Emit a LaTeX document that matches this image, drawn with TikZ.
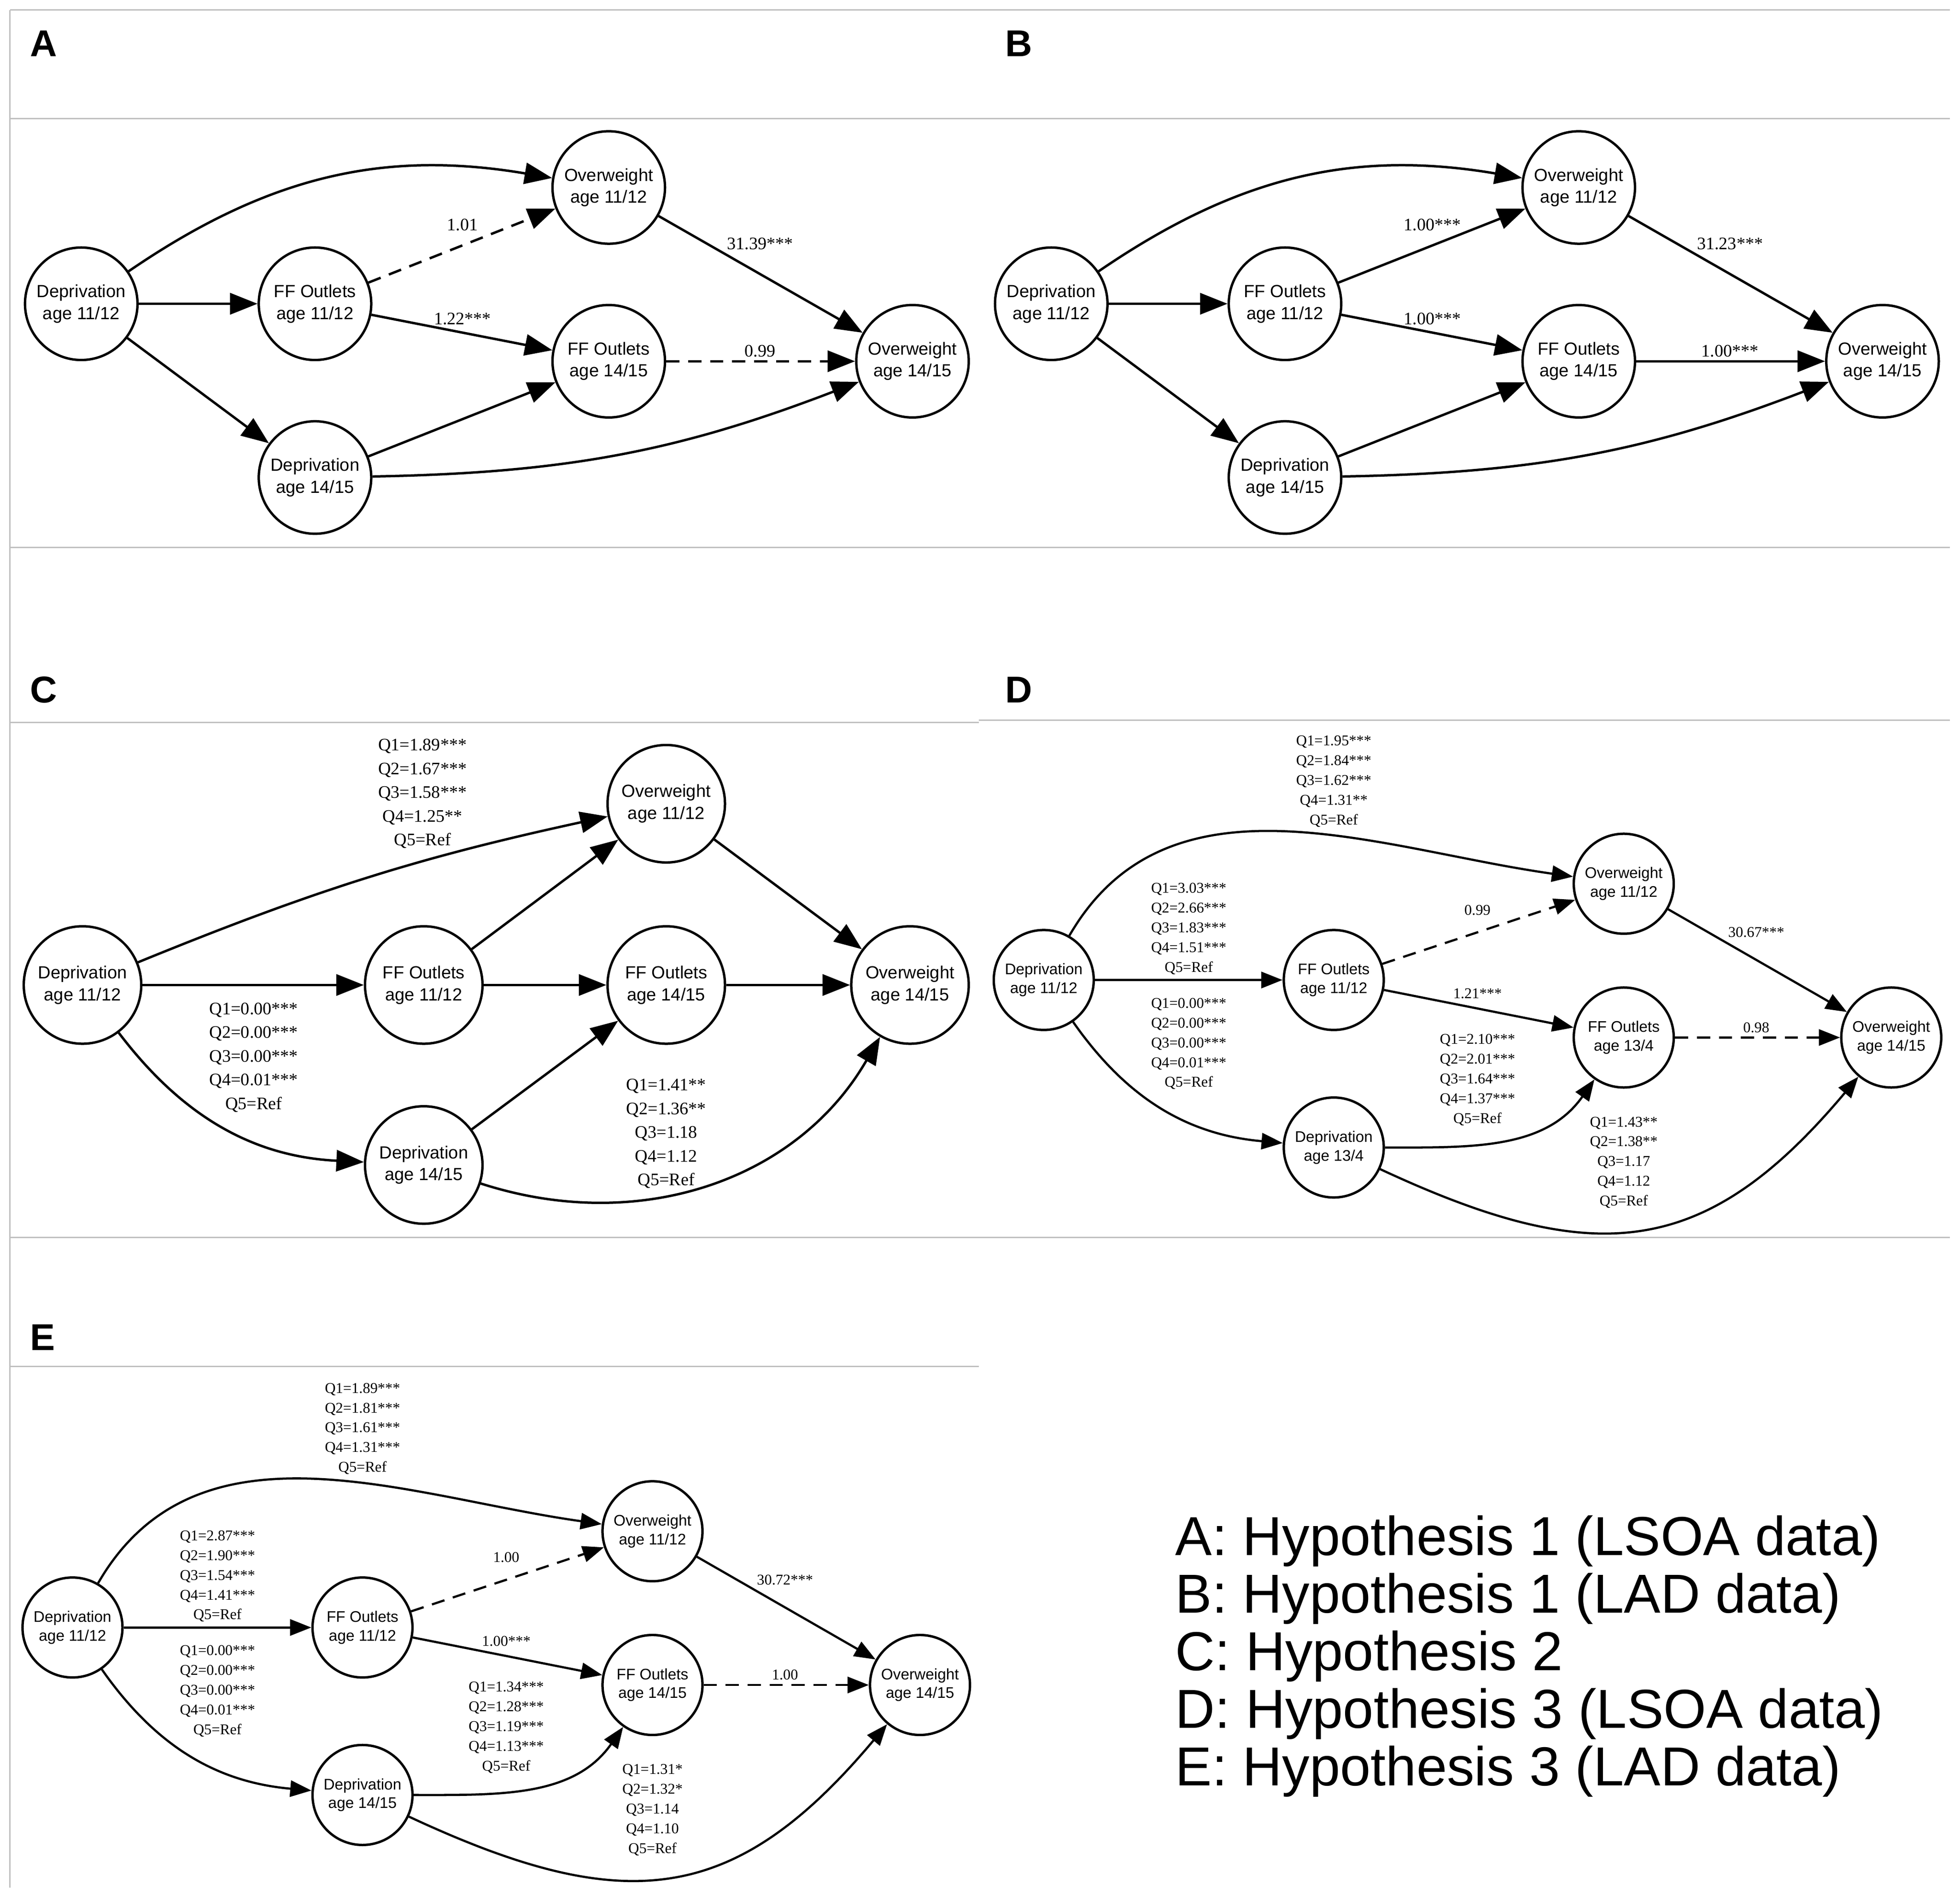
\documentclass[tikz,border=0pt]{standalone}
\usepackage{fontspec}
\setmainfont{Liberation Serif}
\newfontfamily\arial{Liberation Sans}
\usetikzlibrary{arrows.meta}
\begin{document}
\begin{tikzpicture}[x=0.02cm,y=-0.02cm,
 nd/.style={circle,draw,line width=1.1pt,minimum size=1.8cm,inner sep=0pt,align=center,font=\arial\fontsize{8}{10}\selectfont},
 ndc/.style={nd,minimum size=1.88cm},
 nds/.style={nd,minimum size=1.6cm,font=\arial\fontsize{7}{8.5}\selectfont},
 ar/.style={line width=1.1pt,-{Triangle[length=0.44cm,width=0.34cm]}},
 ars/.style={line width=1pt,-{Triangle[length=0.34cm,width=0.26cm]}},
 dsh/.style={dash pattern=on 6pt off 4pt},
 lab/.style={font=\fontsize{8}{10.8}\selectfont,align=center,inner sep=0pt},
 labs/.style={font=\fontsize{6.8}{9}\selectfont,align=center,inner sep=0pt},
 frm/.style={draw=black!25,line width=0.6pt},
 let/.style={font=\arial\bfseries\fontsize{17}{20}\selectfont,anchor=west}]
\useasboundingbox (0,0) rectangle (1568,1516);
% frames
\draw[frm] (8,8)--(1560,8); \draw[frm] (8,95)--(1560,95); \draw[frm] (8,438)--(1560,438);
\draw[frm] (8,578)--(783,578); \draw[frm] (783,576)--(1560,576); \draw[frm] (8,990)--(1560,990);
\draw[frm] (8,1093)--(783,1093); \draw[frm] (8,8)--(8,1510);
\node[let] at (18,35) {A}; \node[let] at (798,35) {B};
\node[let] at (18,552) {C}; \node[let] at (798,552) {D}; \node[let] at (18,1070) {E};
% ---------- A and B
\foreach \p/\dx/\la/\lb/\lc/\ld/\da/\db in {a/0/1.01/1.22***/31.39***/0.99/dsh/dsh,b/776/1.00***/1.00***/31.23***/1.00***/solid/solid}{
\node[nd] (\p1) at (65+\dx,243) {Deprivation\\age 11/12};
\node[nd] (\p2) at (252+\dx,243) {FF Outlets\\age 11/12};
\node[nd] (\p3) at (252+\dx,382) {Deprivation\\age 14/15};
\node[nd] (\p4) at (487+\dx,150) {Overweight\\age 11/12};
\node[nd] (\p5) at (487+\dx,289) {FF Outlets\\age 14/15};
\node[nd] (\p6) at (730+\dx,289) {Overweight\\age 14/15};
\draw[ar] (\p1) to[bend left=22] (\p4);
\draw[ar] (\p1)--(\p2); \draw[ar] (\p1)--(\p3);
\draw[ar,\da] (\p2)--(\p4); \draw[ar] (\p2)--(\p5);
\draw[ar] (\p3)--(\p5); \draw[ar] (\p4)--(\p6);
\draw[ar,\db] (\p5)--(\p6);
\draw[ar] (\p3) to[bend right=10] (\p6);
\node[lab] at (370+\dx,180) {\la}; \node[lab] at (370+\dx,255) {\lb};
\node[lab] at (608+\dx,195) {\lc}; \node[lab] at (608+\dx,281) {\ld};
}
% ---------- C
\node[ndc] (c1) at (66,788) {Deprivation\\age 11/12};
\node[ndc] (c2) at (339,788) {FF Outlets\\age 11/12};
\node[ndc] (c3) at (339,932) {Deprivation\\age 14/15};
\node[ndc] (c4) at (533,643) {Overweight\\age 11/12};
\node[ndc] (c5) at (533,788) {FF Outlets\\age 14/15};
\node[ndc] (c6) at (728,788) {Overweight\\age 14/15};
\draw[ar] (c1) to[bend left=5] (c4);
\draw[ar] (c1)--(c2); \draw[ar] (c1) to[bend right=25] (c3);
\draw[ar] (c2)--(c4); \draw[ar] (c2)--(c5); \draw[ar] (c3)--(c5);
\draw[ar] (c4)--(c6); \draw[ar] (c5)--(c6);
\draw[ar] (c3) to[out=-18,in=-120] (c6);
\node[lab] at (338,635) {Q1=1.89***\\Q2=1.67***\\Q3=1.58***\\Q4=1.25**\\Q5=Ref};
\node[lab] at (203,846) {Q1=0.00***\\Q2=0.00***\\Q3=0.00***\\Q4=0.01***\\Q5=Ref};
\node[lab] at (533,907) {Q1=1.41**\\Q2=1.36**\\Q3=1.18\\Q4=1.12\\Q5=Ref};
% ---------- D and E
\foreach \p/\dx/\dy/\nm/\nq/\tA/\tB/\tC/\tD/\tE/\tF/\tG/\tH/\tI/\tJ/\tK/\tL/\tM/\tN/\tO/\tP/\tQ/\tR/\tS/\tT in {
d/777/0/13/4/1.95***/1.84***/1.62***/1.31**/3.03***/2.66***/1.83***/1.51***/0.99/1.21***/2.10***/2.01***/1.64***/1.37***/30.67***/0.98/1.43**/1.38**/1.17/1.12,
e/0/518/14/15/1.89***/1.81***/1.61***/1.31***/2.87***/1.90***/1.54***/1.41***/1.00/1.00***/1.34***/1.28***/1.19***/1.13***/30.72***/1.00/1.31*/1.32*/1.14/1.10}{
\node[nds] (\p1) at (58+\dx,784+\dy) {Deprivation\\age 11/12};
\node[nds] (\p2) at (290+\dx,784+\dy) {FF Outlets\\age 11/12};
\node[nds] (\p3) at (290+\dx,918+\dy) {Deprivation\\age \nm/\nq};
\node[nds] (\p4) at (522+\dx,707+\dy) {Overweight\\age 11/12};
\node[nds] (\p5) at (522+\dx,830+\dy) {FF Outlets\\age \nm/\nq};
\node[nds] (\p6) at (736+\dx,830+\dy) {Overweight\\age 14/15};
\draw[ars] (\p1) to[out=60,in=172] (\p4);
\draw[ars] (\p1)--(\p2); \draw[ars] (\p1) to[bend right=25] (\p3);
\draw[ars,dsh] (\p2)--(\p4); \draw[ars] (\p2)--(\p5);
\draw[ars] (\p3) to[out=0,in=-125] (\p5);
\draw[ars] (\p4)--(\p6); \draw[ars,dsh] (\p5)--(\p6);
\draw[ars] (\p3) to[out=-25,in=-130,looseness=1.25] (\p6);
\node[labs] at (290+\dx,625+\dy) {Q1=\tA\\Q2=\tB\\Q3=\tC\\Q4=\tD\\Q5=Ref};
\node[labs] at (174+\dx,743+\dy) {Q1=\tE\\Q2=\tF\\Q3=\tG\\Q4=\tH\\Q5=Ref};
\node[labs] at (174+\dx,835+\dy) {Q1=0.00***\\Q2=0.00***\\Q3=0.00***\\Q4=0.01***\\Q5=Ref};
\node[labs] at (405+\dx,728+\dy) {\tI};
\node[labs] at (405+\dx,795+\dy) {\tJ};
\node[labs] at (405+\dx,864+\dy) {Q1=\tK\\Q2=\tL\\Q3=\tM\\Q4=\tN\\Q5=Ref};
\node[labs] at (628+\dx,746+\dy) {\tO};
\node[labs] at (628+\dx,822+\dy) {\tP};
\node[labs] at (522+\dx,930+\dy) {Q1=\tQ\\Q2=\tR\\Q3=\tS\\Q4=\tT\\Q5=Ref};
}
% legend
\node[anchor=north west,align=left,inner sep=0pt,font=\arial\fontsize{25}{26.2}\selectfont] at (940,1212)
{A: Hypothesis 1 (LSOA data)\\B: Hypothesis 1 (LAD data)\\C: Hypothesis 2\\D: Hypothesis 3 (LSOA data)\\E: Hypothesis 3 (LAD data)};
\end{tikzpicture}
\end{document}
